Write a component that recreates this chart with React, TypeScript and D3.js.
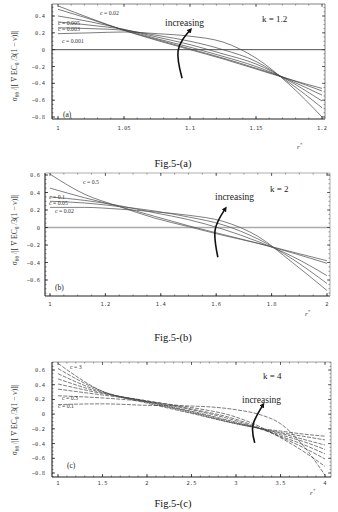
import React from 'react';
import * as d3 from 'd3';

// ---- panel (a), k = 1.2 ----
const rA = [1, 1.025, 1.05, 1.075, 1.1, 1.125, 1.15, 1.175, 1.2];
const sA = [
  [0.52, 0.37, 0.23, 0.11, 0.0, -0.11, -0.23, -0.35, -0.46],
  [0.48, 0.36, 0.23, 0.12, 0.01, -0.1, -0.22, -0.35, -0.49],
  [0.4, 0.33, 0.24, 0.13, 0.03, -0.08, -0.2, -0.36, -0.54],
  [0.33, 0.29, 0.24, 0.15, 0.06, -0.05, -0.17, -0.37, -0.61],
  [0.26, 0.25, 0.23, 0.17, 0.1, 0.0, -0.14, -0.39, -0.69],
  [0.19, 0.2, 0.21, 0.19, 0.16, 0.09, -0.1, -0.41, -0.8],
];
const xTicksA = [1, 1.05, 1.1, 1.15, 1.2];
const yTicksA = [-0.8, -0.6, -0.4, -0.2, 0, 0.2, 0.4];
const cLabelsA = ['c = 0.02', 'c = 0.005', 'c = 0.003', 'c = 0.001'];

// ---- panel (b), k = 2 ----
const rB = [1, 1.125, 1.25, 1.375, 1.5, 1.625, 1.75, 1.875, 2];
const sB = [
  [0.61, 0.38, 0.24, 0.11, 0.01, -0.09, -0.18, -0.28, -0.38],
  [0.45, 0.34, 0.24, 0.13, 0.02, -0.08, -0.18, -0.29, -0.41],
  [0.35, 0.31, 0.25, 0.17, 0.09, -0.02, -0.16, -0.33, -0.55],
  [0.3, 0.28, 0.24, 0.19, 0.12, 0.03, -0.13, -0.36, -0.64],
  [0.23, 0.23, 0.21, 0.18, 0.14, 0.07, -0.1, -0.4, -0.72],
];
const xTicksB = [1, 1.2, 1.4, 1.6, 1.8, 2];
const yTicksB = [-0.6, -0.4, -0.2, 0, 0.2, 0.4, 0.6];
const cLabelsB = ['c = 0.5', 'c = 0.1', 'c = 0.05', 'c = 0.02'];

// ---- panel (c), k = 4 ----
const rC = [1, 1.5, 2, 2.5, 3, 3.25, 3.5, 3.75, 4];
const sC = [
  [0.69, 0.31, 0.15, 0.01, -0.13, -0.19, -0.23, -0.27, -0.3],
  [0.62, 0.31, 0.16, 0.02, -0.13, -0.19, -0.25, -0.3, -0.35],
  [0.55, 0.3, 0.17, 0.03, -0.12, -0.19, -0.26, -0.34, -0.42],
  [0.48, 0.29, 0.17, 0.04, -0.11, -0.19, -0.28, -0.37, -0.48],
  [0.41, 0.28, 0.18, 0.06, -0.09, -0.19, -0.3, -0.41, -0.54],
  [0.34, 0.26, 0.18, 0.07, -0.07, -0.18, -0.31, -0.45, -0.61],
  [0.25, 0.22, 0.17, 0.09, -0.04, -0.16, -0.32, -0.5, -0.71],
  [0.13, 0.14, 0.12, 0.11, 0.06, 0.0, -0.13, -0.42, -0.83],
];
const xTicksC = [1, 1.5, 2, 2.5, 3, 3.5, 4];
const yTicksC = [-0.8, -0.6, -0.4, -0.2, 0, 0.2, 0.4, 0.6];
const cLabelsC = ['c = 3', 'c = 0.3', 'c = 0.1'];

// "increasing" arrows, in data units (r, value)
const arrowA: [number, number][] = [[1.094, -0.34], [1.091, -0.01], [1.1, 0.23]];
const arrowB: [number, number][] = [[1.606, -0.34], [1.596, -0.03], [1.632, 0.21]];
const arrowC: [number, number][] = [[3.21, -0.39], [3.19, -0.15], [3.3, 0.12]];

const fmt = (d: number) => String(d).replace('-', '\u2212');

function Panel(p: any) {
  const x = d3.scaleLinear().domain(p.xDomain).range(p.xRange);
  const y = d3.scaleLinear().domain(p.yDomain).range(p.yRange);
  const f = p.frame;
  const line = d3.line<number>()
    .x((_, i) => x(p.r[i]))
    .y((d) => y(d))
    .curve(d3.curveMonotoneX);
  const arrowLine = d3.line<[number, number]>()
    .x((d) => x(d[0]))
    .y((d) => y(d[1]))
    .curve(d3.curveNatural);

  const xLo = x.invert(f.x0), xHi = x.invert(f.x1);
  const yLo = y.invert(f.y1), yHi = y.invert(f.y0);
  const xMinor = d3.range(Math.ceil(xLo / p.xMinor) * p.xMinor, xHi, p.xMinor);
  const yMinor = d3.range(Math.ceil(yLo / p.yMinor) * p.yMinor, yHi, p.yMinor);
  const clip = 'clip' + p.id;

  return (
    <g>
      <defs>
        <clipPath id={clip}>
          <rect x={f.x0} y={f.y0} width={f.x1 - f.x0} height={f.y1 - f.y0} />
        </clipPath>
      </defs>
      {/* zero line */}
      {p.zero && (
        <line x1={f.x0} x2={f.x1} y1={y(0)} y2={y(0)}
          stroke={p.zero === 'gray' ? '#aaa' : '#222'}
          strokeWidth={p.zero === 'gray' ? 1.4 : 0.8} />
      )}
      <g clipPath={`url(#${clip})`}>
        {p.series.map((s: number[], i: number) => (
          <path key={i} d={line(s) || ''} fill="none" stroke={p.stroke}
            strokeWidth={p.lw} strokeDasharray={p.dashed ? '4,1.3' : undefined} />
        ))}
      </g>
      {/* frame */}
      <line x1={f.x0} x2={f.x1} y1={f.y1} y2={f.y1} stroke="#222" strokeWidth={1.1} />
      <line x1={f.x0} x2={f.x0} y1={f.y0} y2={f.y1} stroke="#222" strokeWidth={1.1} />
      <line x1={f.x0} x2={f.x1} y1={f.y0} y2={f.y0} stroke={p.frameLight} strokeWidth={0.8} />
      <line x1={f.x1} x2={f.x1} y1={f.y0} y2={f.y1} stroke={p.frameLight} strokeWidth={0.8} />
      {/* ticks */}
      {xMinor.map((v, i) => (
        <g key={'xm' + i}>
          <line x1={x(v)} x2={x(v)} y1={f.y1} y2={f.y1 - 1.5} stroke="#333" strokeWidth={0.6} />
          <line x1={x(v)} x2={x(v)} y1={f.y0} y2={f.y0 + 1.5} stroke="#555" strokeWidth={0.6} />
        </g>
      ))}
      {yMinor.map((v, i) => (
        <g key={'ym' + i}>
          <line x1={f.x0} x2={f.x0 + 1.5} y1={y(v)} y2={y(v)} stroke="#333" strokeWidth={0.6} />
          <line x1={f.x1} x2={f.x1 - 1.5} y1={y(v)} y2={y(v)} stroke="#555" strokeWidth={0.6} />
        </g>
      ))}
      {p.xTicks.map((v: number) => (
        <g key={'x' + v}>
          <line x1={x(v)} x2={x(v)} y1={f.y1} y2={f.y1 - 3} stroke="#222" strokeWidth={0.8} />
          <line x1={x(v)} x2={x(v)} y1={f.y0} y2={f.y0 + 3} stroke="#444" strokeWidth={0.8} />
          <text x={x(v)} y={p.xLabelY} textAnchor="middle" fontSize={5.5}
            fontFamily="DejaVu Sans Mono" fill="#444">{fmt(v)}</text>
        </g>
      ))}
      {p.yTicks.map((v: number) => (
        <g key={'y' + v}>
          <line x1={f.x0} x2={f.x0 + 3} y1={y(v)} y2={y(v)} stroke="#222" strokeWidth={0.8} />
          <line x1={f.x1} x2={f.x1 - 3} y1={y(v)} y2={y(v)} stroke="#444" strokeWidth={0.8} />
          <text x={p.yLabelX} y={y(v) + 2} textAnchor="end" fontSize={5.5}
            fontFamily="DejaVu Sans Mono" fill="#444">{fmt(v)}</text>
        </g>
      ))}
      {/* curve labels */}
      {p.labels.map((t: string, i: number) => (
        <text key={'l' + i} x={p.labelPos[i][0]} y={p.labelPos[i][1]} fontSize={5.8}
          fontFamily="Liberation Serif" fill="#333">{t}</text>
      ))}
      {/* increasing arrow */}
      <path d={arrowLine(p.arrow) || ''} fill="none" stroke="#111" strokeWidth={1.6}
        markerEnd="url(#ah)" />
      <text x={p.incPos[0]} y={p.incPos[1]} fontSize={9.5} fontFamily="Liberation Serif"
        fill="#222">increasing</text>
      <text x={p.kPos[0]} y={p.kPos[1]} fontSize={9} fontFamily="Liberation Serif"
        fill="#222">{p.k}</text>
      <text x={p.tagPos[0]} y={p.tagPos[1]} fontSize={7.5} fontFamily="Liberation Serif"
        fill="#222">{p.tag}</text>
      <text x={p.rPos[0]} y={p.rPos[1]} fontSize={7} fontFamily="Liberation Serif"
        fontStyle="italic" fill="#333">r<tspan dy={-3} fontSize={5}>*</tspan></text>
      <text transform={`translate(${p.yLab[0]},${p.yLab[1]}) rotate(-90)`} textAnchor="middle"
        fontSize={7.5} fontFamily="Liberation Serif" fill="#333">
        σ<tspan dy={2} fontSize={5.5}>θθ</tspan>
        <tspan dy={-2}> /|[ V̄ EC</tspan>
        <tspan dy={2} fontSize={5.5}>0</tspan>
        <tspan dy={-2}> /3(1 − ν)]|</tspan>
      </text>
      <text x={173} y={p.capY} textAnchor="middle" fontSize={10.5}
        fontFamily="Liberation Serif" fill="#111">{p.caption}</text>
    </g>
  );
}

export default function App() {
  return (
    <svg width={338} height={512} style={{ position: 'absolute', left: 0, top: 0, background: '#fff' }}>
      <defs>
        <marker id="ah" viewBox="0 0 10 10" refX={4} refY={5} markerWidth={3.2} markerHeight={3.2}
          orient="auto" markerUnits="strokeWidth">
          <path d="M0,0 L10,5 L0,10 z" fill="#111" />
        </marker>
      </defs>
      <Panel id="a" r={rA} series={sA} xDomain={[1, 1.2]} xRange={[58, 322]}
        yDomain={[-0.8, 0.4]} yRange={[117, 16]} frame={{ x0: 52, x1: 325, y0: 4, y1: 119 }}
        xTicks={xTicksA} yTicks={yTicksA} xMinor={0.01} yMinor={0.05}
        xLabelY={130} yLabelX={45} zero="black" stroke="#444" lw={0.7} frameLight="#666"
        labels={cLabelsA} labelPos={[[100, 15], [58, 24.5], [58, 31], [62, 43]]}
        arrow={arrowA} incPos={[165, 26]} k="k = 1.2" kPos={[262, 22]} tag="(a)" tagPos={[63, 117]}
        rPos={[297, 149]} yLab={[17, 66]} caption="Fig.5-(a)" capY={167} />
      <Panel id="b" r={rB} series={sB} xDomain={[1, 2]} xRange={[50, 327]}
        yDomain={[-0.6, 0.6]} yRange={[280, 175]} frame={{ x0: 45, x1: 330, y0: 173, y1: 296 }}
        xTicks={xTicksB} yTicks={yTicksB} xMinor={0.05} yMinor={0.05}
        xLabelY={306} yLabelX={40} zero="gray" stroke="#555" lw={0.75} frameLight="#999"
        labels={cLabelsB} labelPos={[[83, 184], [49, 199], [49, 205], [55, 213]]}
        arrow={arrowB} incPos={[215, 200]} k="k = 2" kPos={[270, 192]} tag="(b)" tagPos={[55, 290]}
        rPos={[305, 316]} yLab={[17, 230]} caption="Fig.5-(b)" capY={341} />
      <Panel id="c" r={rC} series={sC} dashed xDomain={[1, 4]} xRange={[58, 325]}
        yDomain={[-0.8, 0.6]} yRange={[473, 370]} frame={{ x0: 52, x1: 331, y0: 362, y1: 477 }}
        xTicks={xTicksC} yTicks={yTicksC} xMinor={0.1} yMinor={0.05}
        xLabelY={485} yLabelX={45} zero={null} stroke="#444" lw={0.7} frameLight="#888"
        labels={cLabelsC} labelPos={[[70, 369], [62, 400], [58, 408]]}
        arrow={arrowC} incPos={[242, 403]} k="k = 4" kPos={[263, 379]} tag="(c)" tagPos={[67, 468]}
        rPos={[310, 495]} yLab={[17, 420]} caption="Fig.5-(c)" capY={507} />
    </svg>
  );
}
